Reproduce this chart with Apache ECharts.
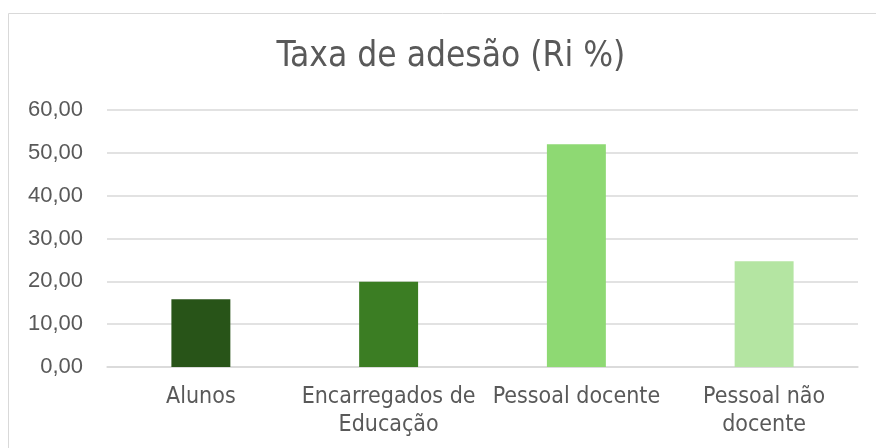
<!DOCTYPE html>
<html>
<head>
<meta charset="utf-8">
<script src="https://cdn.jsdelivr.net/npm/echarts@6/dist/echarts.min.js"></script>
<style>
  html, body { margin: 0; padding: 0; background: #fff; }
  #chart { width: 876px; height: 448px; }
</style>
</head>
<body>
<div id="chart"></div>
<script>
const categories = ["Alunos", "Encarregados de\nEducação", "Pessoal docente", "Pessoal não\ndocente"];
const values = [15.8, 19.9, 52.0, 24.7];
const barColors = ["#285418", "#3b7d23", "#8ed973", "#b4e5a2"];
const yTicks = { min: 0, max: 60, interval: 10 };

const chart = echarts.init(document.getElementById("chart"));
chart.setOption({
  animation: false,
  title: {
    text: "Taxa de adesão (Ri %)",
    left: 446,
    top: 34,
    textAlign: "center",
    textStyle: { fontFamily: "DejaVu Sans Condensed", fontSize: 35, fontWeight: "normal", color: "#595959" }
  },
  graphic: [
    {
      type: "rect",
      shape: { x: 8.5, y: 13.5, width: 900, height: 500 },
      style: { fill: "none", stroke: "#d9d9d9", lineWidth: 1 },
      silent: true
    }
  ],
  grid: { left: 107, right: 18, top: 110, bottom: 81 },
  xAxis: {
    type: "category",
    data: categories,
    axisLine: { lineStyle: { color: "#d9d9d9", width: 1.5 } },
    axisTick: { show: false },
    axisLabel: {
      interval: 0,
      margin: 16,
      fontFamily: "DejaVu Sans Condensed",
      fontSize: 23,
      lineHeight: 28,
      color: "#595959"
    }
  },
  yAxis: {
    type: "value",
    min: yTicks.min,
    max: yTicks.max,
    interval: yTicks.interval,
    axisLine: { show: false },
    axisTick: { show: false },
    splitLine: { lineStyle: { color: "#d9d9d9", width: 1.5 } },
    axisLabel: {
      margin: 24,
      fontFamily: "Liberation Sans",
      fontSize: 22,
      color: "#595959",
      formatter: (v) => v.toFixed(2).replace(".", ",")
    }
  },
  series: [
    {
      type: "bar",
      barWidth: "31.4%",
      data: values.map((v, i) => ({ value: v, itemStyle: { color: barColors[i] } }))
    }
  ]
});
</script>
</body>
</html>
